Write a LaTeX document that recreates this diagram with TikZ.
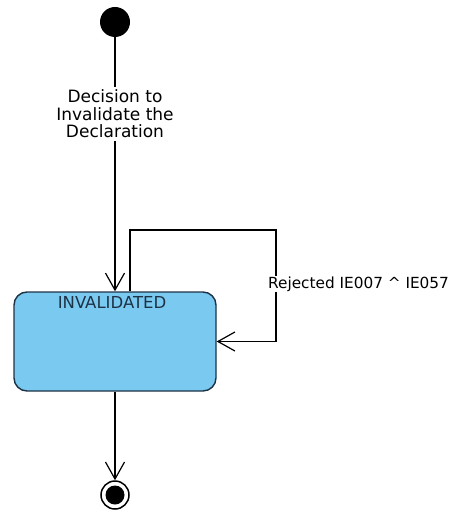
\documentclass[tikz,border=0pt]{standalone}
\usepackage{fontspec}
\setmainfont{DejaVu Sans}
\usetikzlibrary{arrows.meta}
\definecolor{stfill}{RGB}{122,201,240}
\definecolor{stline}{RGB}{30,50,70}
\begin{document}
\begin{tikzpicture}[x=1pt,y=-1pt,
  font=\fontsize{17}{17.5}\selectfont,
  tr/.style={draw=black, line width=1.2pt,
    -{Straight Barb[length=17pt,width=19pt,line width=1.2pt]}},
  lbl/.style={fill=white, inner sep=3pt, align=center},
  statebox/.style={draw=stline, fill=stfill, rounded corners=13pt, line width=1.4pt,
    minimum width=202pt, minimum height=99pt, inner sep=0pt}]
\useasboundingbox (0,0) rectangle (450,510);
\node[circle, fill=black, minimum size=30pt, inner sep=0pt] (init) at (115,22) {};
\node[statebox] (inv) at (115,341.5) {};
\node[text=stline, font=\fontsize{16.5}{17.5}\selectfont] (invt) at (112,302) {INVALIDATED};
\node[circle, draw=black, line width=1.5pt, minimum size=28pt, inner sep=0pt] (fin) at (115,495) {};
\node[circle, fill=black, minimum size=19pt, inner sep=0pt] (finin) at (115,495) {};
% initial -> INVALIDATED
\draw[tr] (init) -- (inv.north);
\node[lbl] (dl) at (115,114) {Decision to\\Invalidate the\\Declaration};
% self loop
\coordinate (l1) at (130,230);
\coordinate (l2) at (276,230);
\draw[tr] (inv.north -| l1) -- (l1) -- (l2) -- (l2 |- inv.east) -- (inv.east);
\node[lbl, anchor=west, inner sep=1pt, font=\fontsize{15.3}{17}\selectfont] (rl) at (267,284) {Rejected IE007 \textasciicircum{} IE057};
% INVALIDATED -> final
\draw[tr] (inv.south) -- (fin.north);
\end{tikzpicture}
\end{document}
